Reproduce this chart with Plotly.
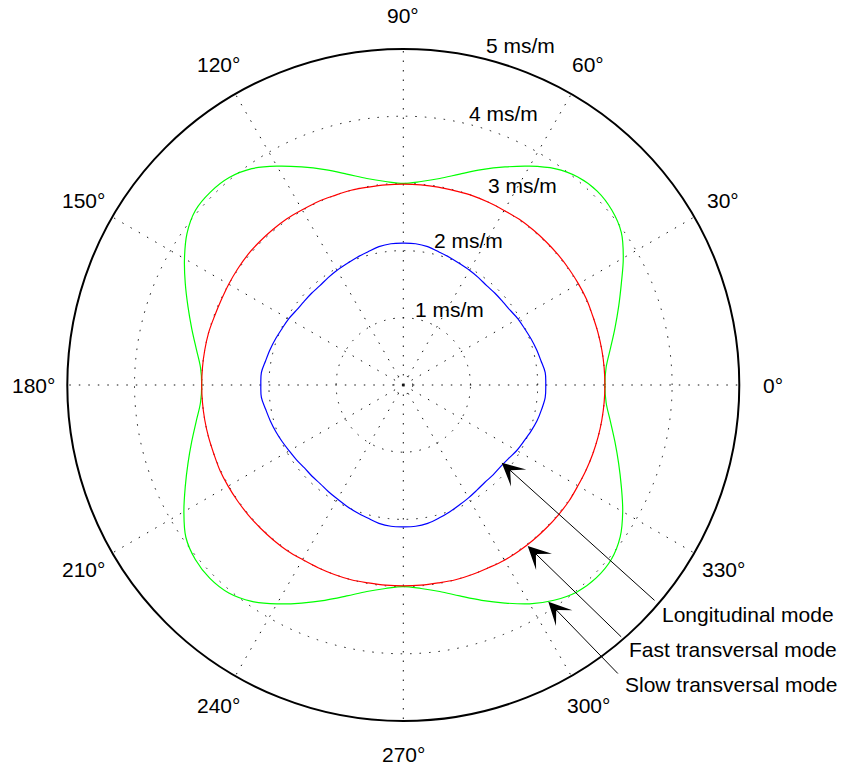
import math
import plotly.graph_objects as go

# Angles (degrees)
theta_deg = [0, 5, 10, 15, 20, 25, 30, 35, 40, 45, 50, 55, 60, 65, 70, 75, 80, 85, 90,
             95, 100, 105, 110, 115, 120, 125, 130, 135, 140, 145, 150, 155, 160, 165, 170, 175, 180,
             185, 190, 195, 200, 205, 210, 215, 220, 225, 230, 235, 240, 245, 250, 255, 260, 265, 270,
             275, 280, 285, 290, 295, 300, 305, 310, 315, 320, 325, 330, 335, 340, 345, 350, 355, 360]

# Slowness values (ms/m)
longitudinal = [2.12, 2.12, 2.08, 2.05, 2.02, 1.99, 1.97, 1.94, 1.93, 1.93, 1.93, 1.95, 1.97, 1.99, 2.02, 2.05, 2.09, 2.11, 2.11,
                2.11, 2.09, 2.05, 2.02, 1.99, 1.97, 1.95, 1.93, 1.93, 1.93, 1.94, 1.97, 1.99, 2.02, 2.05, 2.08, 2.12, 2.12,
                2.12, 2.08, 2.05, 2.02, 1.99, 1.96, 1.94, 1.92, 1.92, 1.92, 1.94, 1.96, 1.99, 2.02, 2.05, 2.09, 2.11, 2.11,
                2.11, 2.09, 2.05, 2.01, 1.97, 1.94, 1.91, 1.89, 1.89, 1.89, 1.91, 1.95, 1.98, 2.02, 2.06, 2.09, 2.12, 2.12]

fast_transversal = [3.00, 3.00, 3.00, 3.00, 3.00, 3.01, 3.01, 3.01, 3.01, 3.01, 3.01, 3.01, 3.00, 3.00, 3.00, 2.99, 2.99, 2.99, 2.99,
                    2.99, 2.99, 3.00, 3.00, 3.01, 3.01, 3.02, 3.02, 3.02, 3.02, 3.01, 3.00, 2.99, 2.99, 3.00, 3.00, 3.00, 3.00,
                    3.00, 3.00, 3.00, 3.00, 3.01, 3.01, 3.01, 3.01, 3.01, 3.01, 3.01, 3.00, 3.00, 3.00, 3.00, 2.99, 2.99, 2.99,
                    2.99, 2.99, 3.00, 3.00, 3.00, 3.01, 3.01, 3.01, 3.01, 3.01, 3.01, 3.00, 3.00, 3.00, 3.00, 3.00, 3.00, 3.00]

slow_transversal = [3.00, 3.03, 3.13, 3.26, 3.41, 3.58, 3.78, 3.96, 4.05, 4.08, 4.04, 3.93, 3.76, 3.58, 3.41, 3.25, 3.12, 3.04, 3.00,
                    3.04, 3.12, 3.25, 3.41, 3.58, 3.76, 3.93, 4.03, 4.06, 4.04, 3.93, 3.76, 3.58, 3.41, 3.26, 3.13, 3.03, 3.00,
                    3.03, 3.13, 3.26, 3.41, 3.58, 3.77, 3.95, 4.04, 4.07, 4.04, 3.93, 3.76, 3.58, 3.41, 3.25, 3.12, 3.04, 3.00,
                    3.04, 3.12, 3.25, 3.41, 3.58, 3.76, 3.91, 4.02, 4.06, 4.04, 3.94, 3.77, 3.58, 3.41, 3.26, 3.13, 3.03, 3.00]

angle_ticks = [0, 30, 60, 90, 120, 150, 180, 210, 240, 270, 300, 330]
angle_labels = ["0°", "30°", "60°", "90°", "120°", "150°", "180°", "210°", "240°", "270°", "300°", "330°"]
ring_values = [0.14, 1, 2, 3, 4, 5]
ring_labels = ["1 ms/m", "2 ms/m", "3 ms/m", "4 ms/m", "5 ms/m"]
mode_labels = ["Longitudinal mode", "Fast transversal mode", "Slow transversal mode"]

FONT = "Liberation Sans, Arial, Helvetica, sans-serif"
FS = 21
W, H = 842, 771
CX, CY, R = 403.3, 385.0, 336.0

fig = go.Figure()
series = [(slow_transversal, "#00ff00", mode_labels[2]),
          (fast_transversal, "#ff0000", mode_labels[1]),
          (longitudinal, "#0000ff", mode_labels[0])]
for vals, col, name in series:
    fig.add_trace(go.Scatterpolar(
        r=vals, theta=theta_deg, mode="lines", name=name,
        line=dict(color=col, width=1.2, shape="spline", smoothing=1.0),
        hoverinfo="skip"))

DOT = "1.5px,8px"
fig.update_layout(
    width=W, height=H,
    margin=dict(l=0, r=0, t=0, b=0),
    paper_bgcolor="white",
    showlegend=False,
    font=dict(family=FONT, size=FS, color="black"),
    polar=dict(
        domain=dict(x=[(CX - R) / W, (CX + R) / W],
                    y=[(H - CY - R) / H, (H - CY + R) / H]),
        bgcolor="white",
        radialaxis=dict(range=[0, 5], tickmode="array", tickvals=ring_values,
                        showticklabels=False, ticks="", showline=False,
                        gridcolor="#111111", gridwidth=1, griddash=DOT, angle=0),
        angularaxis=dict(rotation=0, direction="counterclockwise",
                         tickmode="array", tickvals=angle_ticks,
                         showticklabels=False, ticks="",
                         showline=True, linecolor="black", linewidth=2,
                         gridcolor="#111111", gridwidth=1, griddash=DOT),
    ),
)

# angle labels at 1.1 x outer radius (as MATLAB polar places them)
for a, txt in zip(angle_ticks, angle_labels):
    px = CX + 1.1 * R * math.cos(math.radians(a))
    py = CY - 1.1 * R * math.sin(math.radians(a))
    fig.add_annotation(x=px / W, y=1 - py / H, xref="paper", yref="paper",
                       text=txt, showarrow=False, xanchor="center", yanchor="middle",
                       font=dict(family=FONT, size=FS, color="black"))

# ring labels (placed as in the reference)
ring_pos = [(413, 309.5), (432, 240), (486, 185), (467, 113), (484, 45.5)]
for txt, (px, py) in zip(ring_labels, ring_pos):
    fig.add_annotation(x=px / W, y=1 - py / H, xref="paper", yref="paper",
                       text=txt, showarrow=False, xanchor="left", yanchor="middle",
                       font=dict(family=FONT, size=FS, color="black"))

# mode labels with arrows
text_pos = [(660, 614), (626.7, 649.5), (623.3, 684.5)]
tips = [(501.7, 462.7), (527.7, 546.0), (548.3, 601.7)]
tails = [(656.0, 601.7), (622.7, 638.3), (619.3, 675.0)]
for txt, (px, py) in zip(mode_labels, text_pos):
    fig.add_annotation(x=px / W, y=1 - py / H, xref="paper", yref="paper",
                       text=txt, showarrow=False, xanchor="left", yanchor="middle",
                       font=dict(family=FONT, size=FS, color="black"))
for (tx, ty), (sx, sy) in zip(tips, tails):
    fig.add_annotation(x=tx / W, y=1 - ty / H, xref="paper", yref="paper",
                       ax=sx - tx, ay=sy - ty, axref="pixel", ayref="pixel",
                       text="", showarrow=True, arrowhead=3, arrowsize=3.8,
                       arrowwidth=1, arrowcolor="black", standoff=0)

fig.write_html("out.html", config={"displayModeBar": False},
               post_script="document.body.style.margin='0';document.body.style.overflow='hidden';")
